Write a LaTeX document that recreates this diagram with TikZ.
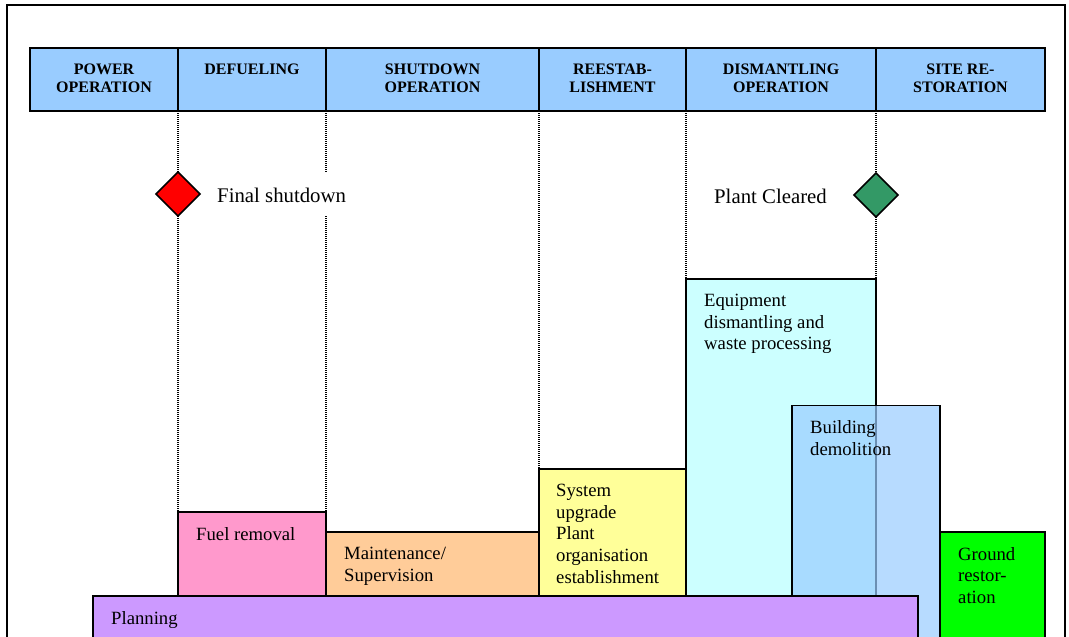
\documentclass[tikz,border=0pt]{standalone}
\usepackage{fontspec}
\setmainfont{Liberation Serif}
\usetikzlibrary{positioning,shapes.geometric}

\definecolor{headblue}{HTML}{99CCFF}
\definecolor{fuelpink}{HTML}{FF99CC}
\definecolor{maintorange}{HTML}{FFCC99}
\definecolor{sysyellow}{HTML}{FFFF99}
\definecolor{equipcyan}{HTML}{CCFFFF}
\definecolor{demoblue}{HTML}{99CCFF}
\definecolor{groundgreen}{HTML}{00FF00}
\definecolor{planpurple}{HTML}{CC99FF}
\definecolor{markgreen}{HTML}{339966}

\tikzset{
    phasecell/.style={draw, line width=2.5pt, fill=headblue, anchor=north west,
        minimum height=63pt, inner sep=0pt, outer sep=0pt},
    phasetext/.style={font=\fontsize{16}{18}\selectfont\bfseries, align=center, inner sep=0pt},
    workbox/.style={draw, line width=1.5pt, anchor=north west, inner sep=0pt, outer sep=0pt},
    worktext/.style={font=\fontsize{18.7}{21.7}\selectfont, align=left, inner sep=0pt},
    milestone/.style={diamond, draw, line width=1.5pt, minimum size=44pt, inner sep=0pt, outer sep=0pt},
    marktext/.style={font=\fontsize{20.8}{24}\selectfont, inner sep=0pt, yshift=-1.5pt},
    gridline/.style={line width=2pt, dash pattern=on 1pt off 1pt}
}

\begin{document}
\begin{tikzpicture}[x=1pt, y=-1pt]
    \useasboundingbox (0,0) rectangle (1069,637);
    \draw[line width=1.8pt] (7,645) -- (7,5) -- (1065,5) -- (1065,645);

    \node[phasecell, minimum width=148pt] (power) at (30,48) {};
    \node[phasecell, minimum width=148pt] (defuel) at (178,48) {};
    \node[phasecell, minimum width=213pt] (shutdown) at (326,48) {};
    \node[phasecell, minimum width=147pt] (reest) at (539,48) {};
    \node[phasecell, minimum width=190pt] (dismant) at (686,48) {};
    \node[phasecell, minimum width=169pt] (siterest) at (876,48) {};
    \foreach \cell/\txt in {power/{POWER\\OPERATION}, defuel/{DEFUELING},
        shutdown/{SHUTDOWN\\OPERATION}, reest/{REESTAB-\\LISHMENT},
        dismant/{DISMANTLING\\OPERATION}, siterest/{SITE RE-\\STORATION}}
        \node[phasetext, below=15.5pt of \cell.north] (\cell-text) {\txt};

    \node[workbox, fill=fuelpink, minimum width=148pt, minimum height=133pt] (fuel) at (178,512) {};
    \node[workbox, fill=maintorange, minimum width=213pt, minimum height=113pt] (maint) at (326,532) {};
    \node[workbox, fill=sysyellow, minimum width=147pt, minimum height=176pt] (system) at (539,469) {};
    \node[workbox, fill=equipcyan, minimum width=190pt, minimum height=366pt] (equip) at (686,279) {};
    \node[workbox, fill=demoblue, fill opacity=0.7, minimum width=148pt, minimum height=240pt] (demol) at (792,405.5) {};
    \node[workbox, fill=groundgreen, minimum width=105pt, minimum height=113pt] (ground) at (940,532) {};
    \node[workbox, fill=planpurple, minimum width=825pt, minimum height=49pt] (plan) at (93,596) {};

    \node[worktext, below right=15pt and 18pt of fuel.north west] (fuel-text) {Fuel removal};
    \node[worktext, below right=15pt and 18pt of maint.north west] (maint-text) {Maintenance/\\Supervision};
    \node[worktext, below right=15pt and 17pt of system.north west] (system-text) {System\\upgrade\\Plant\\organisation\\establishment};
    \node[worktext, below right=15pt and 18pt of equip.north west] (equip-text) {Equipment\\dismantling and\\waste processing};
    \node[worktext, below right=15pt and 18pt of demol.north west] (demol-text) {Building\\demolition};
    \node[worktext, below right=15pt and 18pt of ground.north west] (ground-text) {Ground\\restor-\\ation};
    \node[worktext, below right=15pt and 18pt of plan.north west] (plan-text) {Planning};

    \node[milestone, fill=red] (shutdownmark) at (178,194) {};
    \node[milestone, fill=markgreen] (clearedmark) at (876,195) {};
    \node[marktext, right=17pt of shutdownmark] (shutdown-label) {Final shutdown};
    \node[marktext, left=27pt of clearedmark] (cleared-label) {Plant Cleared};

    \draw[gridline] (defuel.south west) -- (shutdownmark.north);
    \draw[gridline] (shutdownmark.south) -- (fuel.north west);
    \draw[gridline] (shutdown.south west) -- (shutdown.south west |- shutdownmark.north);
    \draw[gridline] (shutdown.south west |- shutdownmark.south) -- (maint.north west);
    \draw[gridline] (reest.south west) -- (maint.north east);
    \draw[gridline] (dismant.south west) -- (equip.north west);
    \draw[gridline] (siterest.south west) -- (clearedmark.north);
    \draw[gridline] (clearedmark.south) -- (equip.north east);
\end{tikzpicture}
\end{document}
